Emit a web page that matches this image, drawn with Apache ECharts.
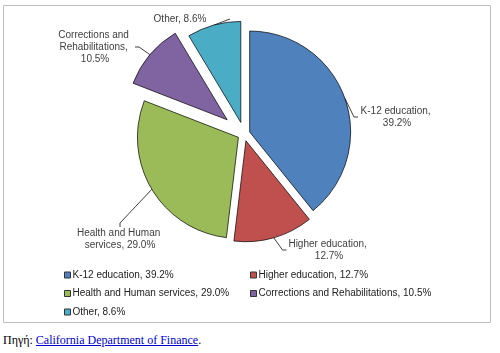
<!DOCTYPE html>
<html>
<head>
<meta charset="utf-8">
<script src="https://cdn.jsdelivr.net/npm/echarts@6/dist/echarts.min.js"></script>
<style>
  body { margin: 0; background: #fff; }
  #chart { position: absolute; left: 0; top: 0; width: 500px; height: 326px; }
  #source { position: absolute; left: 3px; top: 333px; margin: 0; font: 12px "Liberation Serif", "Times New Roman", serif; color: #000; }
  #source a { color: #0000cc; }
</style>
</head>
<body>
<div id="chart"></div>
<p id="source">Πηγή: <a href="#">California Department of Finance</a>.</p>
<script>
// budget shares (%)
var categories = ['K-12 education', 'Higher education', 'Health and Human services', 'Corrections and Rehabilitations', 'Other']
var shares = [39.2, 12.7, 29.0, 10.5, 8.6]

var colors = ['#4f81bd', '#c0504d', '#9bbb59', '#8064a2', '#4bacc6']
var explode = [6, 7, 6.5, 22, 12] // each slice pulled out by its own amount
var labelPos = [[397, 117], [329, 250], [120, 239], [95, 47], [180, 19]]
var labelWidth = [78, 85, 92, 80, 100]
var pieCenter = [244, 134]

function pctText(i) {
  return categories[i] + ', ' + shares[i].toFixed(1) + '%'
}

var total = shares.reduce(function(a, b) { return a + b }, 0)

var chart = echarts.init(document.getElementById('chart'))

// one pie per slice, each pie moved out along its slice's middle angle
var cum = 0
var series = categories.map(function(name, i) {
  var mid = (cum + shares[i] / 2) / total * Math.PI * 2
  cum += shares[i]
  var c = [pieCenter[0] + explode[i] * Math.sin(mid), pieCenter[1] - explode[i] * Math.cos(mid)]
  return {
    type: 'pie',
    center: c,
    radius: 101,
    startAngle: 90,
    clockwise: true,
    silent: true,
    animation: false,
    avoidLabelOverlap: false,
    emphasis: { disabled: true },
    label: {
      position: 'outside',
      color: '#404040',
      fontSize: 10,
      fontFamily: 'Liberation Sans, Arial',
      lineHeight: 12,
      align: 'center',
      overflow: 'break',
      formatter: function(p) {
        return pctText(p.dataIndex)
      }
    },
    labelLine: {
      length: 5,
      length2: 4,
      lineStyle: { color: '#404040', width: 1 }
    },
    labelLayout: function(p) {
      var pos = labelPos[p.dataIndex]
      return { x: pos[0], y: pos[1], align: 'center', verticalAlign: 'middle' }
    },
    data: categories.map(function(n, j) {
      var on = j === i
      return {
        name: n,
        value: shares[j],
        itemStyle: on
          ? { color: colors[j], borderColor: 'rgba(0,0,0,0.7)', borderWidth: 1 }
          : { color: 'rgba(0,0,0,0)', borderWidth: 0 },
        label: { show: on, width: labelWidth[j] },
        labelLine: { show: on }
      }
    })
  }
})

function legendItem(j) {
  return {
    name: categories[j],
    itemStyle: { color: colors[j], borderColor: '#333', borderWidth: 1, opacity: 1 }
  }
}

var legendBase = {
  orient: 'vertical',
  top: 265,
  icon: 'rect',
  itemWidth: 6,
  itemHeight: 6,
  itemGap: 8.5,
  selectedMode: false,
  textStyle: {
    fontSize: 10,
    color: '#222',
    fontFamily: 'Liberation Sans, Arial',
    padding: [0, 0, 0, -3]
  },
  formatter: function(name) {
    return pctText(categories.indexOf(name))
  }
}

var option = {
  backgroundColor: '#fff',
  legend: [
    Object.assign({}, legendBase, { left: 59, data: [0, 2, 4].map(legendItem) }),
    Object.assign({}, legendBase, { left: 245, data: [1, 3].map(legendItem) })
  ],
  graphic: [{
    type: 'rect',
    silent: true,
    z: -1,
    shape: { x: 3.5, y: 5.5, width: 487, height: 317 },
    style: { fill: 'none', stroke: '#bfbfbf', lineWidth: 1 }
  }],
  series: series
}

chart.setOption(option)
</script>
</body>
</html>
